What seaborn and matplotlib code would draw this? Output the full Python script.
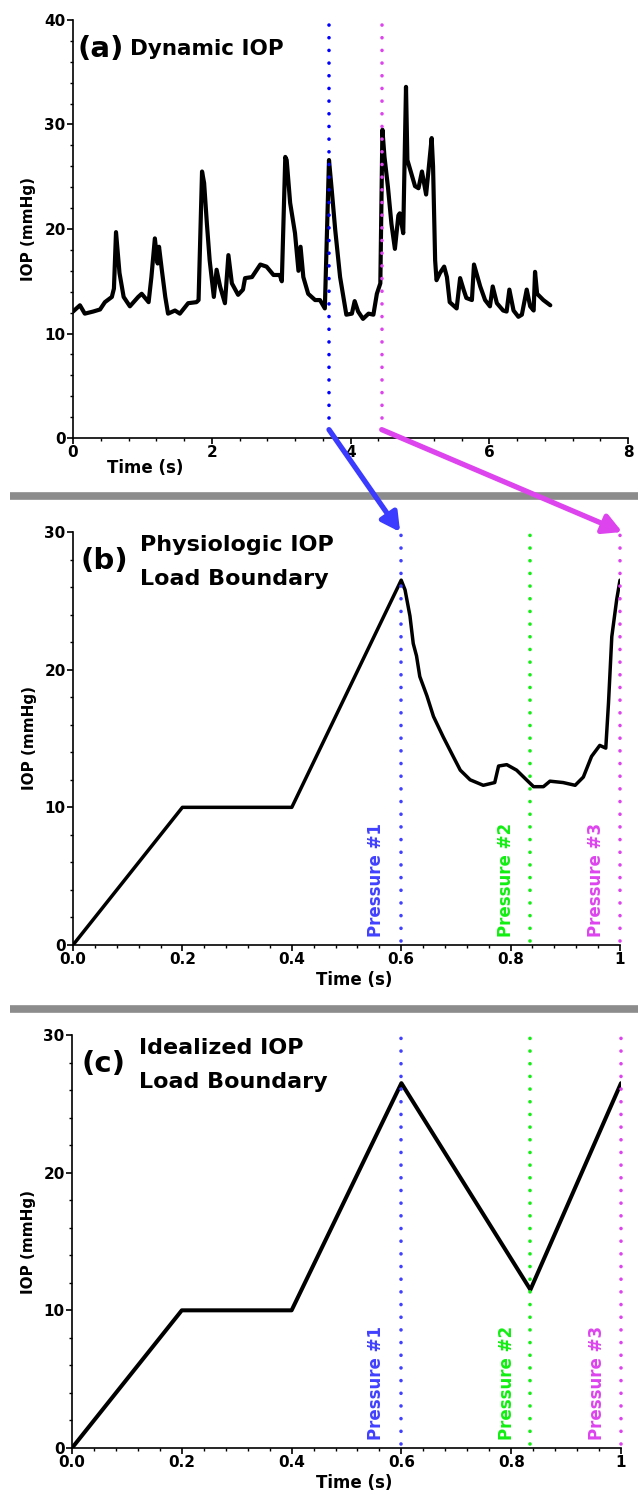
import numpy as np
import pandas as pd
import matplotlib
matplotlib.use('Agg')
import matplotlib.pyplot as plt
import seaborn as sns
from matplotlib.patches import ConnectionPatch
from matplotlib.lines import Line2D
from matplotlib.ticker import MultipleLocator, FixedLocator, FixedFormatter

# Panel (a): dynamic IOP trace
time_a = [0.00, 0.10, 0.17, 0.29, 0.39, 0.46, 0.56, 0.59, 0.62, 0.67, 0.73, 0.82, 0.94, 0.99,
          1.09, 1.13, 1.18, 1.22, 1.24, 1.28, 1.33, 1.37, 1.47, 1.54, 1.66, 1.78, 1.81, 1.86,
          1.89, 1.93, 1.97, 2.03, 2.07, 2.12, 2.19, 2.24, 2.29, 2.38, 2.45, 2.48, 2.58, 2.70,
          2.79, 2.89, 2.98, 3.01, 3.06, 3.08, 3.13, 3.20, 3.25, 3.28, 3.32, 3.39, 3.49, 3.56,
          3.63, 3.69, 3.73, 3.78, 3.85, 3.94, 4.02, 4.06, 4.11, 4.18, 4.26, 4.33, 4.38, 4.43,
          4.46, 4.49, 4.54, 4.59, 4.64, 4.69, 4.71, 4.76, 4.80, 4.82, 4.93, 4.98, 5.03, 5.09,
          5.17, 5.19, 5.22, 5.24, 5.29, 5.35, 5.39, 5.43, 5.53, 5.58, 5.63, 5.67, 5.75, 5.78,
          5.87, 5.94, 6.01, 6.05, 6.11, 6.20, 6.25, 6.29, 6.35, 6.42, 6.47, 6.54, 6.59, 6.64,
          6.66, 6.69, 6.78, 6.88]
iop_a = [12.1, 12.7, 11.9, 12.1, 12.3, 13.0, 13.5, 14.3, 19.7, 15.8, 13.5, 12.6, 13.5, 13.8,
         13.0, 15.4, 19.1, 16.7, 18.3, 16.1, 13.5, 11.9, 12.2, 11.9, 12.9, 13.0, 13.2, 25.5,
         24.4, 20.5, 17.0, 13.5, 16.1, 14.5, 12.9, 17.5, 14.8, 13.7, 14.2, 15.3, 15.4, 16.6,
         16.4, 15.6, 15.6, 15.0, 26.9, 26.6, 22.5, 19.6, 16.0, 18.3, 15.4, 13.8, 13.2, 13.2,
         12.4, 26.6, 23.7, 19.9, 15.4, 11.8, 11.9, 13.1, 12.1, 11.4, 11.9, 11.8, 13.8, 14.8,
         29.5, 26.9, 24.0, 20.5, 18.1, 21.3, 21.5, 19.6, 33.6, 26.6, 24.1, 23.9, 25.5, 23.3,
         28.7, 26.0, 17.0, 15.1, 15.8, 16.4, 15.4, 13.0, 12.4, 15.3, 14.2, 13.4, 13.2, 16.6,
         14.5, 13.2, 12.6, 14.5, 12.9, 12.2, 12.1, 14.2, 12.2, 11.6, 11.8, 14.2, 12.6, 12.2,
         15.9, 13.8, 13.2, 12.7]
marks_a = [3.69, 4.45]

# Panel (b): physiologic load boundary
time_b = [0.0, 0.2, 0.4, 0.6, 0.607, 0.616, 0.622, 0.628, 0.634, 0.647, 0.659, 0.677, 0.695,
          0.708, 0.726, 0.750, 0.771, 0.778, 0.793, 0.811, 0.829, 0.842, 0.860, 0.872, 0.896,
          0.918, 0.933, 0.948, 0.963, 0.974, 0.979, 0.985, 0.994, 1.0]
iop_b = [0.0, 10.0, 10.0, 26.5, 25.8, 23.9, 21.9, 21.0, 19.5, 18.1, 16.6, 15.1, 13.7,
         12.7, 12.0, 11.6, 11.8, 13.0, 13.1, 12.7, 12.0, 11.5, 11.5, 11.9, 11.8,
         11.6, 12.2, 13.7, 14.5, 14.3, 17.6, 22.4, 25.1, 26.5]

# Panel (c): idealized load boundary
time_c = [0.0, 0.2, 0.4, 0.6, 0.835, 1.0]
iop_c = [0.0, 10.0, 10.0, 26.5, 11.5, 26.5]

# Pressure markers
press_times = [0.6, 0.835, 1.0]
press_labels = ['Pressure #1', 'Pressure #2', 'Pressure #3']
press_colors = ['#4040ff', '#11ee11', '#dd44ee']
press_text_x = [0.554, 0.792, 0.957]

sns.set_style('ticks')
plt.rcParams['font.family'] = ['DejaVu Sans']
plt.rcParams['font.weight'] = 'bold'
plt.rcParams['axes.labelweight'] = 'bold'
plt.rcParams['text.color'] = 'black'
plt.rcParams['axes.labelcolor'] = 'black'
plt.rcParams['xtick.color'] = 'black'
plt.rcParams['ytick.color'] = 'black'

W, H = 638, 1495
fig = plt.figure(figsize=(W / 100, H / 100), dpi=100)
ax_a = fig.add_axes([73 / W, 1 - 438 / H, 555 / W, 418 / H])
ax_b = fig.add_axes([73 / W, 1 - 945 / H, 547 / W, 413 / H])
ax_c = fig.add_axes([72 / W, 1 - 1448 / H, 549 / W, 413 / H])

dots = (0, (0.01, 3.5))


def style(ax):
    sns.despine(ax=ax)
    for s in ['left', 'bottom']:
        ax.spines[s].set_linewidth(1.2)
        ax.spines[s].set_color('black')
    ax.tick_params(which='major', length=4.3, width=1.2, labelsize=11, pad=1,
                   colors='black', labelcolor='black')
    ax.tick_params(which='minor', length=2.2, width=1.0, colors='black')
    ax.set_ylabel('IOP (mmHg)', fontsize=11, fontweight='bold', color='black')
    ax.yaxis.set_label_coords(-0.066, 0.5)


# (a)
df_a = pd.DataFrame({'t': time_a, 'iop': iop_a})
sns.lineplot(data=df_a, x='t', y='iop', ax=ax_a, color='black', lw=3.0, sort=False, estimator=None)
for x, c in zip(marks_a, ['#0000ff', '#dd44ee']):
    ax_a.plot([x, x], [1.9, 40], ls=dots, lw=2.6, color=c, dash_capstyle='round', clip_on=False)
ax_a.set_xlim(0, 8)
ax_a.set_ylim(0, 40)
ax_a.xaxis.set_major_locator(MultipleLocator(2))
ax_a.xaxis.set_minor_locator(MultipleLocator(0.4))
ax_a.yaxis.set_major_locator(MultipleLocator(10))
ax_a.yaxis.set_minor_locator(MultipleLocator(2))
style(ax_a)
ax_a.set_xlabel('')
ax_a.text(0.13, -0.072, 'Time (s)', transform=ax_a.transAxes, ha='center', va='center',
          fontsize=12, fontweight='bold', color='black')
ax_a.text(0.05, 0.931, '(a)', transform=ax_a.transAxes, ha='center', va='center',
          fontsize=21, fontweight='bold', color='black')
ax_a.text(0.103, 0.931, 'Dynamic IOP', transform=ax_a.transAxes, ha='left', va='center',
          fontsize=15.5, fontweight='bold', color='black')

# (b) and (c)
panels = [(ax_b, time_b, iop_b, '(b)', 'Physiologic IOP', 2.5),
          (ax_c, time_c, iop_c, '(c)', 'Idealized IOP', 2.9)]
for ax, tt, vv, tag, title, lw in panels:
    df = pd.DataFrame({'t': tt, 'iop': vv})
    sns.lineplot(data=df, x='t', y='iop', ax=ax, color='black', lw=lw, sort=False, estimator=None)
    for x, c, lab, tx in zip(press_times, press_colors, press_labels, press_text_x):
        ax.plot([x, x], [0.3, 30], ls=dots, lw=2.6, color=c, dash_capstyle='round', clip_on=False)
        ax.text(tx, 0.6, lab, rotation=90, ha='center', va='bottom', color=c,
                fontsize=12, fontweight='bold')
    ax.set_xlim(0, 1)
    ax.set_ylim(0, 30)
    ax.xaxis.set_major_locator(FixedLocator([0, 0.2, 0.4, 0.6, 0.8, 1.0]))
    ax.xaxis.set_major_formatter(FixedFormatter(['0.0', '0.2', '0.4', '0.6', '0.8', '1']))
    ax.xaxis.set_minor_locator(MultipleLocator(0.04))
    ax.yaxis.set_major_locator(MultipleLocator(10))
    ax.yaxis.set_minor_locator(MultipleLocator(2))
    style(ax)
    ax.set_xlabel('Time (s)', fontsize=12, fontweight='bold', color='black')
    ax.xaxis.set_label_coords(0.514, -0.062)
    ax.text(0.058, 0.93, tag, transform=ax.transAxes, ha='center', va='center',
            fontsize=21, fontweight='bold', color='black')
    ax.text(0.122, 0.969, title, transform=ax.transAxes, ha='left', va='center',
            fontsize=16, fontweight='bold', color='black')
    ax.text(0.122, 0.886, 'Load Boundary', transform=ax.transAxes, ha='left', va='center',
            fontsize=16, fontweight='bold', color='black')

# gray separators
for y in [496, 1009]:
    fig.add_artist(Line2D([10 / W, 1.0], [1 - y / H] * 2, transform=fig.transFigure,
                          color='#8c8c8c', lw=5.5, solid_capstyle='butt'))

# arrows linking (a) to (b)
for xa, xb, c in [(marks_a[0], 0.598, '#3b3bff'), (marks_a[1], 1.004, '#dd44ee')]:
    con = ConnectionPatch(xyA=(xa, 0.8), coordsA=ax_a.transData, xyB=(xb, 30), coordsB=ax_b.transData,
                          arrowstyle='-|>,head_length=0.65,head_width=0.35', mutation_scale=17,
                          color=c, lw=3.8, zorder=10)
    fig.add_artist(con)

fig.savefig('out.png', dpi=100)
